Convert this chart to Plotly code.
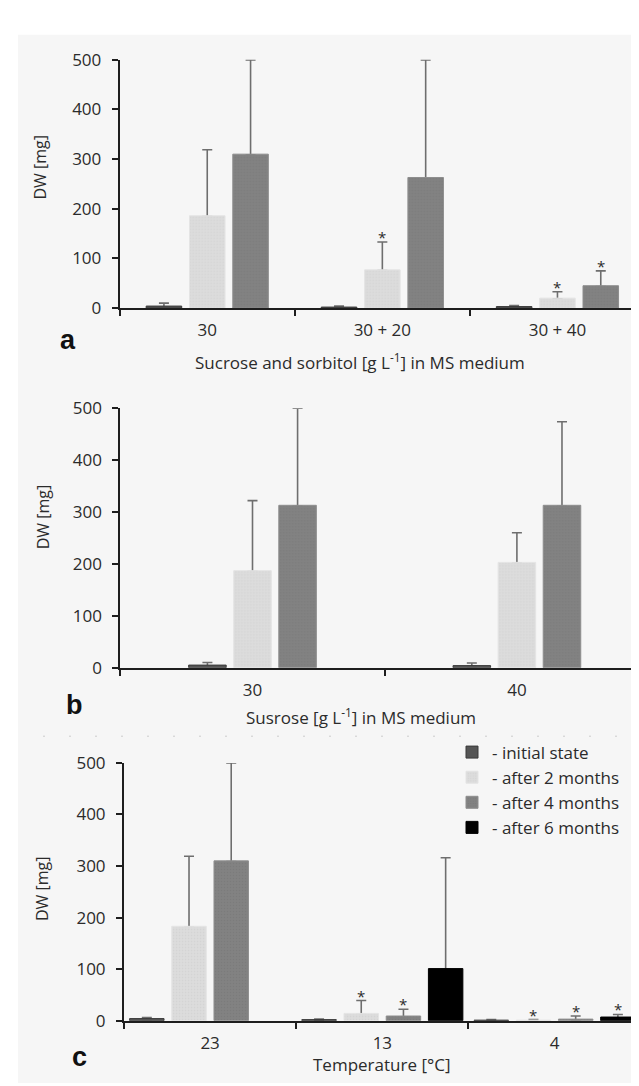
import plotly.graph_objects as go

W, H = 639, 1086

# ---------------- data ----------------
series_names = ["- initial state", "- after 2 months", "- after 4 months", "- after 6 months"]

# panel a: sucrose and sorbitol
a_categories = ["30", "30 + 20", "30 + 40"]
a_initial = [4, 2, 3]
a_initial_sd = [6, 2, 2]
a_month2 = [186, 77, 20]
a_month2_sd = [133, 56, 13]
a_month4 = [310, 263, 45]
a_month4_sd = [190, 237, 30]
a_month2_star = [0, 1, 1]
a_month4_star = [0, 0, 1]

# panel b: sucrose
b_categories = ["30", "40"]
b_initial = [5, 4]
b_initial_sd = [5, 5]
b_month2 = [187, 203]
b_month2_sd = [135, 57]
b_month4 = [313, 313]
b_month4_sd = [187, 161]

# panel c: temperature
c_categories = ["23", "13", "4"]
c_initial = [4, 2, 1]
c_initial_sd = [2, 1, 1]
c_month2 = [183, 14, 1]
c_month2_sd = [136, 25, 1]
c_month4 = [310, 9, 3]
c_month4_sd = [190, 13, 6]
c_month6 = [None, 101, 7]
c_month6_sd = [None, 215, 5]
c_month2_star = [0, 1, 1]
c_month4_star = [0, 1, 1]
c_month6_star = [0, 0, 1]

y_ticks = [0, 100, 200, 300, 400, 500]

# ---------------- style ----------------
FONT = "Open Sans"
TXT = "#2b2b2b"
AX = "#1e1e1e"
fills = ["#555555", "#d9d9d9", "#808080", "#000000"]
edges = ["#3a3a3a", "#e4e4e4", "#8e8e8e", "#000000"]
patterns = [None,
            dict(shape=".", size=3, solidity=0.25, fgcolor="#cbcbcb", bgcolor="#dcdcdc"),
            dict(shape=".", size=3, solidity=0.25, fgcolor="#747474", bgcolor="#828282"),
            None]
SHOE = 1.5  # lower end of the error bar hidden inside the bar


def xp(px):
    return px / W


def yp(py):
    return 1 - py / H


panels = [
    dict(s="", cats=a_categories,
         series=[(0, a_initial, a_initial_sd, None),
                 (1, a_month2, a_month2_sd, a_month2_star),
                 (2, a_month4, a_month4_sd, a_month4_star)],
         xdom=(111.7, 637.0), ydom=(294.3, 40.7), xrange=[-0.5, 2.5],
         slot=0.2474, bw=0.203, legend=False),
    dict(s="2", cats=b_categories,
         series=[(0, b_initial, b_initial_sd, None),
                 (1, b_month2, b_month2_sd, None),
                 (2, b_month4, b_month4_sd, None)],
         xdom=(112.3, 639.0), ydom=(661.7, 396.7), xrange=[-0.5, -0.5 + (639.0 - 112.3) / 264.4],
         slot=0.1705, bw=0.142, legend=False),
    dict(s="3", cats=c_categories,
         series=[(0, c_initial, c_initial_sd, None),
                 (1, c_month2, c_month2_sd, c_month2_star),
                 (2, c_month4, c_month4_sd, c_month4_star),
                 (3, c_month6, c_month6_sd, c_month6_star)],
         xdom=(116.0, 632.7), ydom=(1022.3, 759.0), xrange=[-0.5, 2.5],
         slot=0.245, bw=0.200, legend=True),
]

fig = go.Figure()
annotations = []

# 1) transparent carrier bars holding the error bars (drawn first, so the
#    real bars cover the lower end of each error bar)
for p in panels:
    n = len(p["series"])
    s = p["s"]
    for k, (si, vals, sd, stars) in enumerate(p["series"]):
        center = (k - (n - 1) / 2) * p["slot"]
        fig.add_trace(go.Bar(
            x=p["cats"], y=vals, width=p["bw"], offset=center - p["bw"] / 2,
            marker=dict(color="rgba(0,0,0,0)", line=dict(width=0)),
            showlegend=False, hoverinfo="skip",
            error_y=dict(type="data", symmetric=False, array=sd,
                         arrayminus=[SHOE] * len(sd), color="#6e6e6e",
                         thickness=1.6, width=5),
            xaxis="x" + s, yaxis="y" + s,
        ))

# 2) visible bars, stars, axes
for p in panels:
    n = len(p["series"])
    s = p["s"]
    for k, (si, vals, sd, stars) in enumerate(p["series"]):
        center = (k - (n - 1) / 2) * p["slot"]
        marker = dict(color=fills[si], line=dict(color=edges[si], width=1))
        if patterns[si]:
            marker["pattern"] = patterns[si]
        fig.add_trace(go.Bar(
            x=p["cats"], y=vals, width=p["bw"], offset=center - p["bw"] / 2,
            name=series_names[si], legendgroup=series_names[si],
            showlegend=p["legend"], marker=marker,
            xaxis="x" + s, yaxis="y" + s,
        ))
        if stars:
            for j, flag in enumerate(stars):
                if flag:
                    annotations.append(dict(
                        x=j + center, y=vals[j] + sd[j], xref="x" + s, yref="y" + s,
                        text="*", showarrow=False, yanchor="middle", yshift=5,
                        font=dict(family=FONT, size=15, color=TXT)))

    fig.update_layout(**{
        "xaxis" + s: dict(domain=[xp(p["xdom"][0]), xp(p["xdom"][1])], anchor="y" + s,
                          type="category", range=p["xrange"], showline=True,
                          linecolor=AX, linewidth=2, ticks="outside", ticklen=6,
                          tickwidth=1.5, tickcolor=AX, tickson="boundaries",
                          showgrid=False, zeroline=False, ticklabelstandoff=6,
                          tickfont=dict(family=FONT, size=17, color=TXT)),
        "yaxis" + s: dict(domain=[yp(p["ydom"][0]), yp(p["ydom"][1])], anchor="x" + s,
                          range=[0, 500], tickvals=y_ticks, showline=True,
                          linecolor=AX, linewidth=2, ticks="outside", ticklen=6,
                          tickwidth=1.5, tickcolor=AX, showgrid=False,
                          zeroline=False, ticklabelstandoff=7,
                          tickfont=dict(family=FONT, size=17, color=TXT)),
    })

# axis titles, panel letters
ylabel_pos = [(31.7, 150.0), (35.0, 508.0), (33.3, 887.5)]
for (x, y) in ylabel_pos:
    annotations.append(dict(x=xp(x), y=yp(y), xref="paper", yref="paper",
                            text="DW [mg]", textangle=-90, showarrow=False,
                            xanchor="center", yanchor="middle",
                            font=dict(family=FONT, size=16, color=TXT)))

xtitles = [("Sucrose and sorbitol [g L<sup>-1</sup>] in MS medium", 352.0, 349.0),
           ("Susrose [g L<sup>-1</sup>] in MS medium", 353.0, 712.0),
           ("Temperature [°C]", 374.0, 1067.0)]
for (t, x, y) in xtitles:
    annotations.append(dict(x=xp(x), y=yp(y), xref="paper", yref="paper", text=t,
                            showarrow=False, xanchor="center", yanchor="middle",
                            font=dict(family=FONT, size=17, color=TXT)))

letters = [("a", 60.0, 327.0), ("b", 66.7, 700.0), ("c", 71.7, 1059.0)]
for (t, x, y) in letters:
    annotations.append(dict(x=xp(x), y=yp(y), xref="paper", yref="paper",
                            text="<b>" + t + "</b>", showarrow=False,
                            xanchor="center", yanchor="middle",
                            font=dict(family="Liberation Sans", size=27, color="#111111")))

shapes = [
    dict(type="rect", xref="paper", yref="paper", x0=xp(10), x1=1, y0=0, y1=yp(15),
         fillcolor="#f6f6f6", line=dict(width=0), layer="below"),
    dict(type="line", xref="paper", yref="paper", x0=xp(35), x1=xp(622), y0=yp(731.7),
         y1=yp(731.7), line=dict(color="#cccccc", width=1, dash="2px,24px"), layer="below"),
]

fig.update_layout(
    width=W, height=H, autosize=False,
    margin=dict(l=0, r=0, t=0, b=0),
    paper_bgcolor="white", plot_bgcolor="rgba(0,0,0,0)",
    barmode="overlay",
    annotations=annotations, shapes=shapes,
    showlegend=True,
    legend=dict(x=xp(444), y=yp(730), xanchor="left", yanchor="top",
                bgcolor="rgba(0,0,0,0)", borderwidth=0,
                font=dict(family=FONT, size=17, color=TXT),
                traceorder="normal", itemclick=False),
    font=dict(family=FONT, color=TXT),
)

fig.write_html("out.html")
